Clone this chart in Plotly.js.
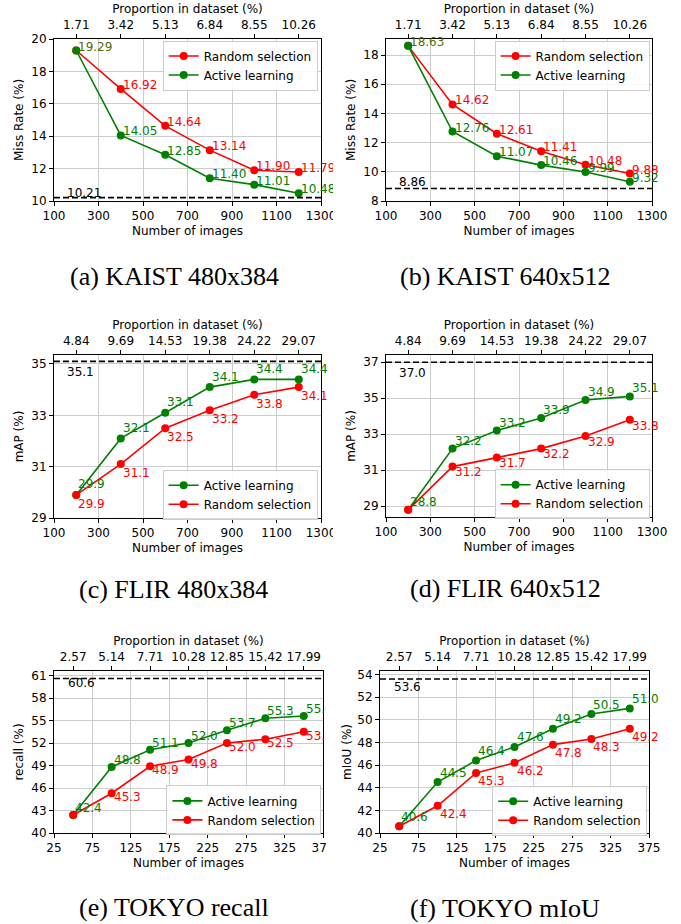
<!DOCTYPE html>
<html>
<head>
<meta charset="utf-8">
<script src="https://cdn.plot.ly/plotly-3.0.1.min.js"></script>
<style>
  html, body { margin: 0; padding: 0; background: #ffffff; }
  #fig { position: relative; width: 681px; height: 924px; background: #ffffff; overflow: hidden; }
  .panel { position: absolute; overflow: hidden; }
</style>
</head>
<body>
<div id="fig">
  <div id="pa" class="panel"></div>
  <div id="pb" class="panel"></div>
  <div id="pc" class="panel"></div>
  <div id="pd" class="panel"></div>
  <div id="pe" class="panel"></div>
  <div id="pf" class="panel"></div>
</div>
<script>
// ---------------- DATA ----------------
const imagesKaistFlir = [200, 400, 600, 800, 1000, 1200];
const imagesTokyo = [50, 100, 150, 200, 250, 300, 350];

const bottomTicksKaistFlir = [100, 300, 500, 700, 900, 1100, 1300];
const bottomTicksTokyo = [25, 75, 125, 175, 225, 275, 325, 375];

const proportionKaist = ['1.71', '3.42', '5.13', '6.84', '8.55', '10.26'];
const proportionFlir = ['4.84', '9.69', '14.53', '19.38', '24.22', '29.07'];
const proportionTokyo = ['2.57', '5.14', '7.71', '10.28', '12.85', '15.42', '17.99'];

const kaist480Random = [19.29, 16.92, 14.64, 13.14, 11.90, 11.79];
const kaist480Active = [19.29, 14.05, 12.85, 11.40, 11.01, 10.48];
const kaist480Full = 10.21;

const kaist640Random = [18.63, 14.62, 12.61, 11.41, 10.48, 9.88];
const kaist640Active = [18.63, 12.76, 11.07, 10.46, 9.99, 9.32];
const kaist640Full = 8.86;

const flir480Active = [29.9, 32.1, 33.1, 34.1, 34.4, 34.4];
const flir480Random = [29.9, 31.1, 32.5, 33.2, 33.8, 34.1];
const flir480Full = 35.1;

const flir640Active = [28.8, 32.2, 33.2, 33.9, 34.9, 35.1];
const flir640Random = [28.8, 31.2, 31.7, 32.2, 32.9, 33.8];
const flir640Full = 37.0;

const tokyoRecallActive = [42.4, 48.8, 51.1, 52.0, 53.7, 55.3, 55.6];
const tokyoRecallRandom = [42.4, 45.3, 48.9, 49.8, 52.0, 52.5, 53.5];
const tokyoRecallFull = 60.6;

const tokyoMiouActive = [40.6, 44.5, 46.4, 47.6, 49.2, 50.5, 51.0];
const tokyoMiouRandom = [40.6, 42.4, 45.3, 46.2, 47.8, 48.3, 49.2];
const tokyoMiouFull = 53.6;

const yTicksA = [10, 12, 14, 16, 18, 20];
const yTicksB = [8, 10, 12, 14, 16, 18];
const yTicksC = [29, 31, 33, 35];
const yTicksD = [29, 31, 33, 35, 37];
const yTicksE = [40, 43, 46, 49, 52, 55, 58, 61];
const yTicksF = [40, 42, 44, 46, 48, 50, 52, 54];

// ---------------- STYLE / LAYOUT ----------------
const RED = '#ff0000';
const GREEN = '#008000';
const OLIVE = '#5a6a00';

const panels = [
  { id: 'pa', left: 0, top: 0, w: 333, h: 300, plot: [54, 321, 39, 201],
    x: imagesKaistFlir, xTicks: bottomTicksKaistFlir, xRange: [100, 1300], prop: proportionKaist,
    yRange: [10, 20], yTicks: yTicksA, yTitle: 'Miss Rate (%)', dec: 2,
    series: [
      { name: 'Random selection', y: kaist480Random, color: RED, shift: 4, skip: [0] },
      { name: 'Active learning', y: kaist480Active, color: GREEN, shift: 4, firstColor: OLIVE }
    ],
    full: kaist480Full, fullText: '10.21', fullX: 150, fullShift: 5,
    legend: [162.7, 40.5], caption: '(a) KAIST 480x384', capPos: [174.5, 276] },
  { id: 'pb', left: 340, top: 0, w: 341, h: 300, plot: [45.7, 311.7, 39, 201],
    x: imagesKaistFlir, xTicks: bottomTicksKaistFlir, xRange: [100, 1300], prop: proportionKaist,
    yRange: [8, 19.1], yTicks: yTicksB, yTitle: 'Miss Rate (%)', dec: 2,
    series: [
      { name: 'Random selection', y: kaist640Random, color: RED, shift: 4, skip: [0] },
      { name: 'Active learning', y: kaist640Active, color: GREEN, shift: 4, firstColor: OLIVE }
    ],
    full: kaist640Full, fullText: '8.86', fullX: 150, fullShift: 6,
    legend: [494.3, 40.5], caption: '(b) KAIST 640x512', capPos: [505, 276] },
  { id: 'pc', left: 0, top: 300, w: 333, h: 310, plot: [54.3, 320.7, 55, 217.7],
    x: imagesKaistFlir, xTicks: bottomTicksKaistFlir, xRange: [100, 1300], prop: proportionFlir,
    yRange: [29, 35.35], yTicks: yTicksC, yTitle: 'mAP (%)', dec: 1,
    series: [
      { name: 'Active learning', y: flir480Active, color: GREEN, shift: 10.5 },
      { name: 'Random selection', y: flir480Random, color: RED, shift: -9 }
    ],
    full: flir480Full, fullText: '35.1', fullX: 150, fullShift: -11,
    legend: [162.7, 469.5], caption: '(c) FLIR 480x384', capPos: [174, 589] },
  { id: 'pd', left: 340, top: 300, w: 341, h: 310, plot: [45.7, 311.7, 55, 217.3],
    x: imagesKaistFlir, xTicks: bottomTicksKaistFlir, xRange: [100, 1300], prop: proportionFlir,
    yRange: [28.4, 37.4], yTicks: yTicksD, yTitle: 'mAP (%)', dec: 1,
    series: [
      { name: 'Active learning', y: flir640Active, color: GREEN, shift: 8 },
      { name: 'Random selection', y: flir640Random, color: RED, shift: -5.7, skip: [0] }
    ],
    full: flir640Full, fullText: '37.0', fullX: 150, fullShift: -10.4,
    legend: [494.3, 469.5], caption: '(d) FLIR 640x512', capPos: [505.5, 589] },
  { id: 'pe', left: 0, top: 610, w: 326, h: 314, plot: [54.3, 323.3, 60.7, 223.3],
    x: imagesTokyo, xTicks: bottomTicksTokyo, xRange: [25, 375], prop: proportionTokyo,
    yRange: [40, 61.6], yTicks: yTicksE, yTitle: 'recall (%)', dec: 1,
    series: [
      { name: 'Active learning', y: tokyoRecallActive, color: GREEN, shift: 7 },
      { name: 'Random selection', y: tokyoRecallRandom, color: RED, shift: -4, skip: [0] }
    ],
    full: tokyoRecallFull, fullText: '60.6', fullX: 41, fullShift: -4,
    legend: [166.7, 785.5], caption: '(e) TOKYO recall', capPos: [174, 908] },
  { id: 'pf', left: 340, top: 610, w: 341, h: 314, plot: [40, 309.3, 60.7, 222.7],
    x: imagesTokyo, xTicks: bottomTicksTokyo, xRange: [25, 375], prop: proportionTokyo,
    yRange: [40, 54.3], yTicks: yTicksF, yTitle: 'mIoU (%)', dec: 1,
    series: [
      { name: 'Active learning', y: tokyoMiouActive, color: GREEN, shift: 9.5 },
      { name: 'Random selection', y: tokyoMiouRandom, color: RED, shift: -8, skip: [0] }
    ],
    full: tokyoMiouFull, fullText: '53.6', fullX: 40, fullShift: -7.7,
    legend: [492.3, 785.5], caption: '(f) TOKYO mIoU', capPos: [505, 908] }
];

const FONT = 'DejaVu Sans, Verdana, sans-serif';
const GRID = '#cccccc';

panels.forEach(p => {
  const el = document.getElementById(p.id);
  el.style.left = p.left + 'px';
  el.style.top = p.top + 'px';
  el.style.width = p.w + 'px';
  el.style.height = p.h + 'px';

  const [x0, x1, y0, y1] = p.plot;
  const pw = x1 - x0, ph = y1 - y0;
  const toPX = ax => (ax - p.left - x0) / pw;
  const toPY = ay => 1 - (ay - p.top - y0) / ph;

  const traces = [];
  const annotations = [];

  p.series.forEach(s => {
    traces.push({
      type: 'scatter', mode: 'lines+markers', name: s.name,
      x: p.x, y: s.y, xaxis: 'x', yaxis: 'y',
      line: { color: s.color, width: 1.6 },
      marker: { color: s.color, size: 8, symbol: 'circle' },
      cliponaxis: false, hoverinfo: 'skip'
    });
  });

  // invisible trace so the top (proportion) axis is drawn
  traces.push({
    type: 'scatter', mode: 'markers', x: p.x, y: p.series[0].y,
    xaxis: 'x2', yaxis: 'y', showlegend: false, hoverinfo: 'skip',
    marker: { opacity: 0, size: 1 }
  });

  // value labels
  p.series.forEach(s => {
    s.y.forEach((v, i) => {
      if (s.skip && s.skip.indexOf(i) >= 0) return;
      annotations.push({
        xref: 'x', yref: 'y', x: p.x[i], y: v,
        text: v.toFixed(p.dec), showarrow: false,
        xanchor: 'left', yanchor: 'middle', xshift: 0, yshift: s.shift,
        font: { family: FONT, size: 12, color: (i === 0 && s.firstColor) ? s.firstColor : s.color }
      });
    });
  });

  // full-dataset label
  annotations.push({
    xref: 'x', yref: 'y', x: p.fullX, y: p.full, text: p.fullText, showarrow: false,
    xanchor: 'left', yanchor: 'middle', yshift: p.fullShift,
    font: { family: FONT, size: 12, color: '#000000' }
  });

  // caption
  annotations.push({
    xref: 'paper', yref: 'paper', x: toPX(p.capPos[0]), y: toPY(p.capPos[1]),
    text: p.caption, showarrow: false, xanchor: 'center', yanchor: 'middle',
    font: { family: 'Liberation Serif, Times New Roman, serif', size: 26, color: '#000000' }
  });

  const layout = {
    width: p.w, height: p.h,
    margin: { l: x0, r: p.w - x1, t: y0, b: p.h - y1, pad: 0 },
    paper_bgcolor: '#ffffff', plot_bgcolor: '#ffffff',
    font: { family: FONT, size: 12, color: '#000000' },
    showlegend: true,
    legend: {
      x: toPX(p.legend[0]), y: toPY(p.legend[1]), xanchor: 'left', yanchor: 'top',
      xref: 'paper', yref: 'paper',
      bgcolor: 'rgba(255,255,255,0.85)', bordercolor: '#cccccc', borderwidth: 1,
      font: { family: FONT, size: 12, color: '#000000' }, traceorder: 'normal',
      itemwidth: 30, tracegroupgap: 0
    },
    xaxis: {
      range: p.xRange, autorange: false, tickmode: 'array', tickvals: p.xTicks,
      ticktext: p.xTicks.map(String), ticklabeloverflow: 'allow',
      ticks: 'outside', ticklen: 4, tickwidth: 1, tickcolor: '#000000',
      showline: true, linecolor: '#000000', linewidth: 1, mirror: true,
      showgrid: true, gridcolor: GRID, gridwidth: 1, zeroline: false,
      tickfont: { family: FONT, size: 12, color: '#000000' },
      title: { text: 'Number of images', font: { family: FONT, size: 12 }, standoff: 4 }
    },
    xaxis2: {
      overlaying: 'x', side: 'top', anchor: 'y',
      range: p.xRange, autorange: false, tickmode: 'array', tickvals: p.x, ticktext: p.prop,
      ticklabeloverflow: 'allow',
      ticks: 'outside', ticklen: 4, tickwidth: 1, tickcolor: '#000000',
      showline: false, showgrid: false, zeroline: false,
      tickfont: { family: FONT, size: 12, color: '#000000' },
      title: { text: 'Proportion in dataset (%)', font: { family: FONT, size: 12 }, standoff: 2 }
    },
    yaxis: {
      range: p.yRange, autorange: false, tickmode: 'array', tickvals: p.yTicks,
      ticktext: p.yTicks.map(String),
      ticks: 'outside', ticklen: 4, tickwidth: 1, tickcolor: '#000000',
      showline: true, linecolor: '#000000', linewidth: 1, mirror: true,
      showgrid: true, gridcolor: GRID, gridwidth: 1, zeroline: false,
      tickfont: { family: FONT, size: 12, color: '#000000' },
      title: { text: p.yTitle, font: { family: FONT, size: 12 }, standoff: 5 }
    },
    shapes: [{
      type: 'line', xref: 'x domain', x0: 0, x1: 1, yref: 'y', y0: p.full, y1: p.full,
      line: { color: '#000000', width: 1.6, dash: '6px,3px' }, layer: 'above'
    }],
    annotations: annotations
  };

  Plotly.newPlot(el, traces, layout, { staticPlot: true, displayModeBar: false });
});
</script>
</body>
</html>
